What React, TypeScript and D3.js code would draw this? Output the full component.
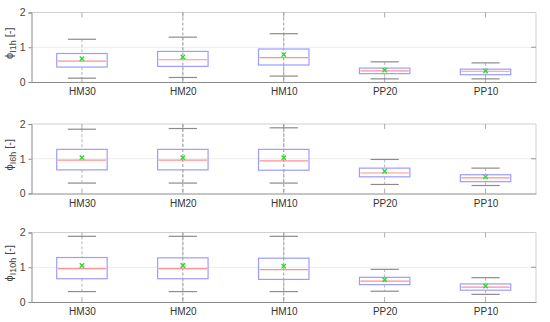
import React, { useEffect, useRef } from 'react';
import * as d3 from 'd3';

// categories and per-panel box statistics: [lowerWhisker, q1, median, q3, upperWhisker]
const categories = ['HM30', 'HM20', 'HM10', 'PP20', 'PP10'];
const panelNames = ['1h', '6h', '10h'];
const yTicks = [0, 1, 2];

const box1h = [
    [0.11, 0.43, 0.60, 0.82, 1.23],
    [0.13, 0.45, 0.64, 0.88, 1.29],
    [0.17, 0.49, 0.70, 0.95, 1.39],
    [0.09, 0.24, 0.32, 0.40, 0.58],
    [0.09, 0.21, 0.31, 0.37, 0.55],
];
const mean1h = [0.67, 0.72, 0.79, 0.34, 0.32];

const box6h = [
    [0.30, 0.68, 0.96, 1.27, 1.85],
    [0.30, 0.68, 0.96, 1.27, 1.87],
    [0.30, 0.67, 0.94, 1.27, 1.89],
    [0.26, 0.48, 0.59, 0.73, 0.98],
    [0.23, 0.34, 0.45, 0.54, 0.73],
];
const mean6h = [1.03, 1.03, 1.03, 0.64, 0.48];

const box10h = [
    [0.30, 0.67, 0.96, 1.28, 1.89],
    [0.30, 0.67, 0.96, 1.27, 1.89],
    [0.30, 0.65, 0.93, 1.26, 1.89],
    [0.31, 0.50, 0.60, 0.71, 0.94],
    [0.22, 0.34, 0.43, 0.52, 0.70],
];
const mean10h = [1.05, 1.05, 1.03, 0.64, 0.46];

const boxes = [box1h, box6h, box10h];
const means = [mean1h, mean6h, mean10h];

const App: React.FC = () => {
    const svgRef = useRef<SVGSVGElement>(null);

    useEffect(() => {
        document.body.style.margin = '0';
        d3.select(svgRef.current).selectAll('*').remove();

        const width = 550;
        const height = 322;
        const left = 31.5;
        const right = 536;
        const panelTops = [12.5, 124, 232.5];
        const panelH = 69.5;
        const font = 'Liberation Sans, Arial, sans-serif';

        const svg = d3.select(svgRef.current)
            .attr('width', width)
            .attr('height', height)
            .style('background', '#fff')
            .style('font-family', font);

        const x = d3.scaleLinear().domain([0.5, categories.length + 0.5]).range([left, right]);
        const step = x(2) - x(1);
        const boxW = step * 0.5;
        const capW = step * 0.28;

        panelTops.forEach((top, p) => {
            const y = d3.scaleLinear().domain([0, 2]).range([top + panelH, top]);
            const g = svg.append('g');

            // grid line at 1
            g.append('line')
                .attr('x1', left).attr('x2', right)
                .attr('y1', y(1)).attr('y2', y(1))
                .attr('stroke', '#ececec');

            // frame
            g.append('line').attr('x1', left).attr('x2', right).attr('y1', top).attr('y2', top).attr('stroke', '#cfcfcf');
            g.append('line').attr('x1', right).attr('x2', right).attr('y1', top).attr('y2', top + panelH).attr('stroke', '#cfcfcf');

            // y axis
            const yAxis = g.append('g')
                .attr('transform', `translate(${left},0)`)
                .call(d3.axisLeft(y).tickValues(yTicks).tickSize(3).tickPadding(3).tickFormat(d3.format('d')));
            yAxis.select('.domain').attr('stroke', '#8a8a8a');
            yAxis.selectAll('line').attr('stroke', '#8a8a8a');
            yAxis.selectAll('text').attr('fill', '#444').style('font-size', '10.5px').style('font-family', font);

            // right tick at 1
            g.append('line').attr('x1', right - 5).attr('x2', right).attr('y1', y(1)).attr('y2', y(1)).attr('stroke', '#999');

            // x axis
            const xAxis = g.append('g')
                .attr('transform', `translate(0,${top + panelH})`)
                .call(d3.axisBottom(x).tickValues(categories.map((_, i) => i + 1))
                    .tickSize(0).tickPadding(6).tickFormat((d) => categories[(d as number) - 1]));
            xAxis.select('.domain').attr('stroke', '#8a8a8a');
            xAxis.selectAll('text').attr('fill', '#333').style('font-size', '10px').style('font-family', font);

            // inner ticks top and bottom
            categories.forEach((_, i) => {
                const cx = x(i + 1);
                g.append('line').attr('x1', cx).attr('x2', cx).attr('y1', top).attr('y2', top + 5).attr('stroke', '#aaa');
                g.append('line').attr('x1', cx).attr('x2', cx).attr('y1', top + panelH - 5).attr('y2', top + panelH).attr('stroke', '#aaa');
            });

            // full-height dashed guides for HM20 and HM10
            [1, 2].forEach((i) => {
                const cx = x(i + 1);
                g.append('line').attr('x1', cx).attr('x2', cx).attr('y1', y(2)).attr('y2', y(0))
                    .attr('stroke', '#9a9a9a').attr('stroke-dasharray', '3,2');
            });

            boxes[p].forEach((b, i) => {
                const cx = x(i + 1);
                const [lo, q1, med, q3, hi] = b;
                // whiskers
                g.append('line').attr('x1', cx).attr('x2', cx).attr('y1', y(hi)).attr('y2', y(q3))
                    .attr('stroke', '#b5b5b5').attr('stroke-dasharray', '3,2');
                g.append('line').attr('x1', cx).attr('x2', cx).attr('y1', y(q1)).attr('y2', y(lo))
                    .attr('stroke', '#b5b5b5').attr('stroke-dasharray', '3,2');
                // caps
                [lo, hi].forEach((v) => {
                    g.append('line').attr('x1', cx - capW / 2).attr('x2', cx + capW / 2)
                        .attr('y1', y(v)).attr('y2', y(v)).attr('stroke', '#8c8c8c').attr('stroke-width', 1.2);
                });
                // box
                g.append('rect')
                    .attr('x', cx - boxW / 2).attr('y', y(q3))
                    .attr('width', boxW).attr('height', y(q1) - y(q3))
                    .attr('fill', 'none').attr('stroke', '#9c9cff').attr('stroke-width', 1.2);
                // median
                g.append('line').attr('x1', cx - boxW / 2 + 1).attr('x2', cx + boxW / 2 - 1)
                    .attr('y1', y(med)).attr('y2', y(med)).attr('stroke', '#ff9090').attr('stroke-width', 1.2);
                // mean marker
                const my = y(means[p][i]);
                const s = 2.2;
                g.append('path')
                    .attr('d', `M${cx - s},${my - s}L${cx + s},${my + s}M${cx - s},${my + s}L${cx + s},${my - s}`)
                    .attr('stroke', '#22dd22').attr('stroke-width', 1.3);
            });

            // y label
            const label = g.append('text')
                .attr('transform', `translate(13,${y(1) - 4}) rotate(-90)`)
                .attr('text-anchor', 'middle')
                .attr('fill', '#444')
                .style('font-size', '11px');
            label.append('tspan').text('\u03d5');
            label.append('tspan').attr('dy', 3).style('font-size', '9px').text(`I${panelNames[p]}`);
            label.append('tspan').attr('dy', -3).text(' [-]');
        });
    }, []);

    return <svg ref={svgRef}></svg>;
};

export default App;
